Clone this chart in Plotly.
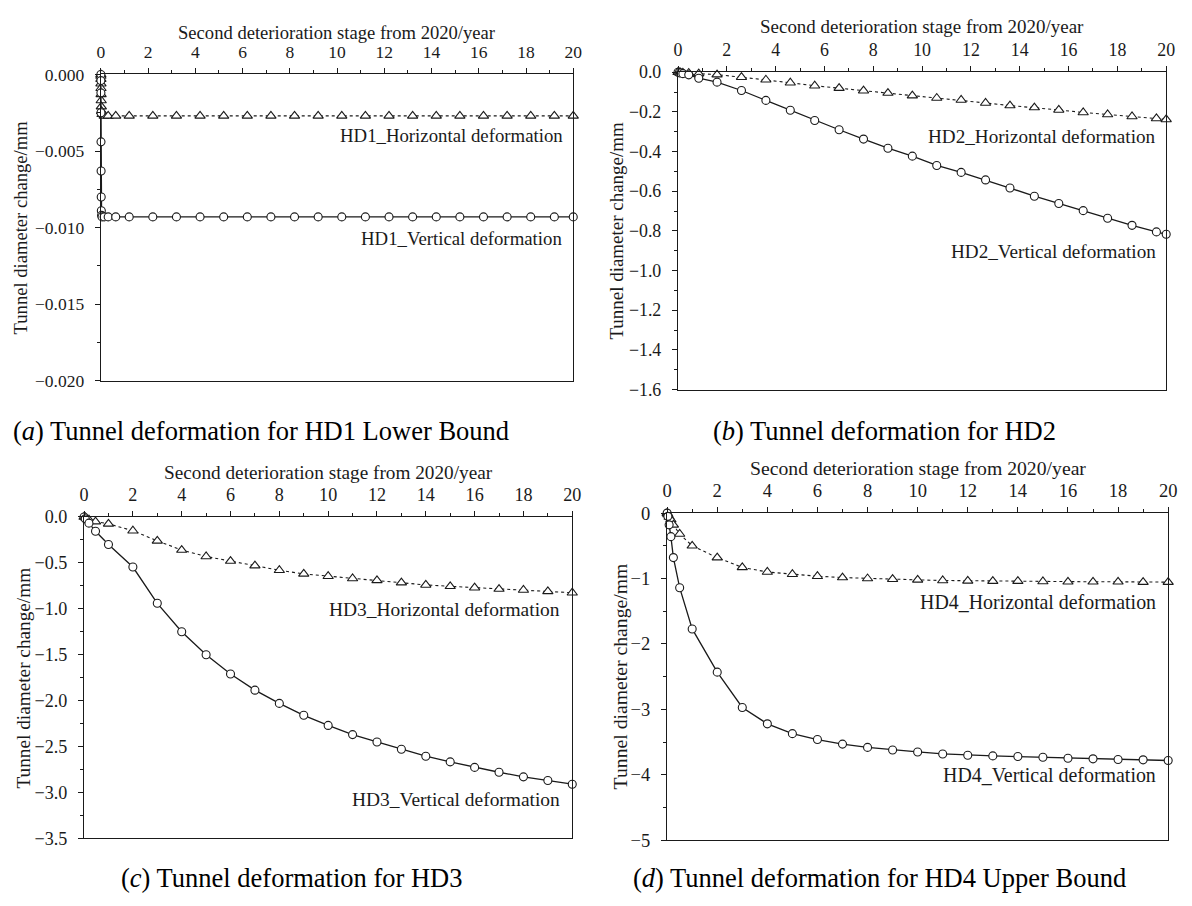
import plotly.graph_objects as go

# ---------------- data ----------------
# (a) HD1 Lower Bound
a_years = [0, 0.001, 0.002, 0.004, 0.006, 0.01, 0.015, 0.02, 0.03, 0.05,
           0.14, 0.31, 0.63, 1.2, 2.2, 3.2, 4.2, 5.2, 6.2, 7.2, 8.2, 9.2,
           10.2, 11.2, 12.2, 13.2, 14.2, 15.2, 16.2, 17.2, 18.2, 19.2, 20]
a_horizontal = [0, -0.0001, -0.0003, -0.0006, -0.0009, -0.0013, -0.0017, -0.0021,
                -0.0024, -0.0026, -0.0027, -0.0027, -0.0027, -0.0027, -0.0027,
                -0.0027, -0.0027, -0.0027, -0.0027, -0.0027, -0.0027, -0.0027,
                -0.0027, -0.0027, -0.0027, -0.0027, -0.0027, -0.0027, -0.0027,
                -0.0027, -0.0027, -0.0027, -0.0027]
a_vertical = [0, -0.0004, -0.0012, -0.0025, -0.0044, -0.0063, -0.0080, -0.0089,
              -0.0092, -0.0093, -0.0093, -0.0093, -0.0093, -0.0093, -0.0093,
              -0.0093, -0.0093, -0.0093, -0.0093, -0.0093, -0.0093, -0.0093,
              -0.0093, -0.0093, -0.0093, -0.0093, -0.0093, -0.0093, -0.0093,
              -0.0093, -0.0093, -0.0093, -0.0093]

# (b) HD2
b_years = [0, 0.05, 0.1, 0.2, 0.44, 0.85, 1.6, 2.6, 3.6, 4.6, 5.6, 6.6, 7.6, 8.6,
           9.6, 10.6, 11.6, 12.6, 13.6, 14.6, 15.6, 16.6, 17.6, 18.6, 19.6, 20]
b_horizontal = [0, -0.001, -0.002, -0.003, -0.004, -0.007, -0.012, -0.025, -0.038,
                -0.053, -0.068, -0.080, -0.093, -0.105, -0.118, -0.130, -0.140,
                -0.155, -0.168, -0.178, -0.190, -0.203, -0.213, -0.223, -0.233, -0.238]
b_vertical = [0, -0.002, -0.004, -0.007, -0.013, -0.030, -0.050, -0.092, -0.142,
              -0.192, -0.243, -0.290, -0.337, -0.383, -0.423, -0.470, -0.505,
              -0.543, -0.584, -0.625, -0.662, -0.698, -0.736, -0.772, -0.805, -0.817]

# (c) HD3
c_years = [0, 0.05, 0.2, 0.47, 1, 2, 3, 4, 5, 6, 7, 8, 9, 10, 11, 12, 13, 14, 15,
           16, 17, 18, 19, 20]
c_horizontal = [0, -0.005, -0.03, -0.05, -0.075, -0.15, -0.26, -0.36, -0.43, -0.48,
                -0.53, -0.58, -0.62, -0.645, -0.67, -0.69, -0.715, -0.74, -0.755,
                -0.77, -0.785, -0.795, -0.81, -0.825]
c_vertical = [0, -0.02, -0.067, -0.156, -0.30, -0.545, -0.94, -1.25, -1.50, -1.71,
              -1.886, -2.03, -2.16, -2.27, -2.37, -2.45, -2.53, -2.605, -2.667,
              -2.727, -2.78, -2.83, -2.87, -2.91]

# (d) HD4 Upper Bound
d_years = [0, 0.03, 0.08, 0.15, 0.25, 0.5, 1, 2, 3, 4, 5, 6, 7, 8, 9, 10, 11, 12,
           13, 14, 15, 16, 17, 18, 19, 20]
d_horizontal = [0, -0.02, -0.06, -0.10, -0.18, -0.32, -0.50, -0.68, -0.83, -0.90,
                -0.935, -0.965, -0.985, -1.00, -1.01, -1.02, -1.03, -1.035, -1.04,
                -1.04, -1.045, -1.05, -1.05, -1.05, -1.055, -1.055]
d_vertical = [0, -0.05, -0.18, -0.36, -0.68, -1.14, -1.77, -2.43, -2.97, -3.22,
              -3.37, -3.46, -3.53, -3.58, -3.62, -3.65, -3.68, -3.70, -3.71, -3.72,
              -3.73, -3.745, -3.755, -3.765, -3.77, -3.78]

x_title = "Second deterioration stage from 2020/year"
y_title = "Tunnel diameter change/mm"
captions = ["(<i>a</i>) Tunnel deformation for HD1 Lower Bound",
            "(<i>b</i>) Tunnel deformation for HD2",
            "(<i>c</i>) Tunnel deformation for HD3",
            "(<i>d</i>) Tunnel deformation for HD4 Upper Bound"]
h_labels = ["HD1_Horizontal deformation", "HD2_Horizontal deformation",
            "HD3_Horizontal deformation", "HD4_Horizontal deformation"]
v_labels = ["HD1_Vertical deformation", "HD2_Vertical deformation",
            "HD3_Vertical deformation", "HD4_Vertical deformation"]

# ---------------- layout / style ----------------
W, H = 1192, 906
FONT = "Liberation Serif, Times New Roman, serif"
INK = "#1a1a1a"

series = [(a_years, a_horizontal, a_vertical),
          (b_years, b_horizontal, b_vertical),
          (c_years, c_horizontal, c_vertical),
          (d_years, d_horizontal, d_vertical)]

# plot boxes in pixels: (left, right, top, bottom)
boxes = [(97, 575, 65, 378.5), (681, 1175, 62.7, 387.5),
         (80, 574, 518, 847), (670, 1177, 514, 849)]
scale = [1.0, 1.02, 1.035, 1.06]          # per-panel text scale
y_ranges = [(-0.020, 0.0), (-1.6, 0.0), (-3.5, 0.0), (-5.0, 0.0)]
y_dticks = [0.005, 0.2, 0.5, 1.0]
y_minor = [0.0025, 0.1, 0.25, 0.5]
y_formats = [".3f", ".1f", ".1f", "d"]
h_label_pos = [(19.65, -0.0040), (19.68, -0.325), (19.6, -1.01), (19.6, -1.36)]
v_label_pos = [(19.6, -0.0107), (19.68, -0.905), (19.6, -3.08), (19.6, -4.0)]
xtitle_gap = [43, 47, 46, 46]
ytitle_x = [16, 619, 19, 622]
caption_pos = [(259, 430), (890, 430), (290, 888), (885, 888)]

fig = go.Figure()
annotations = []
layout = dict(width=W, height=H, autosize=False,
              margin=dict(l=0, r=0, t=0, b=0),
              paper_bgcolor="white", plot_bgcolor="white",
              showlegend=False,
              font=dict(family=FONT, color=INK, size=18))

for i, ((yrs, hor, ver), (l, r, t, b)) in enumerate(zip(series, boxes)):
    n = "" if i == 0 else str(i + 1)
    xa, ya = "x" + n, "y" + n
    s = scale[i]
    fig.add_trace(go.Scatter(
        x=yrs, y=hor, xaxis=xa, yaxis=ya, mode="lines+markers",
        line=dict(color=INK, width=1.1, dash="3px,3px"),
        marker=dict(symbol="triangle-up", size=9, color="white",
                    line=dict(color=INK, width=1.1)),
        cliponaxis=False))
    fig.add_trace(go.Scatter(
        x=yrs, y=ver, xaxis=xa, yaxis=ya, mode="lines+markers",
        line=dict(color=INK, width=1.3),
        marker=dict(symbol="circle", size=8, color="white",
                    line=dict(color=INK, width=1.1)),
        cliponaxis=False))

    layout["xaxis" + n] = dict(
        domain=[l / W, r / W], anchor=ya, side="top", range=[0, 20],
        tick0=0, dtick=2, ticks="outside", ticklen=5, tickwidth=1.3,
        tickcolor=INK, showline=True, linecolor=INK, linewidth=1.3,
        mirror=True, showgrid=False, zeroline=False, ticklabelstandoff=3,
        tickfont=dict(family=FONT, size=17.5 * s, color=INK),
        minor=dict(ticks="outside", ticklen=3, tickwidth=1.1, tickcolor=INK,
                   tick0=0, dtick=1, showgrid=False))
    layout["yaxis" + n] = dict(
        domain=[1 - b / H, 1 - t / H], anchor=xa, range=list(y_ranges[i]),
        tick0=0, dtick=y_dticks[i], tickformat=y_formats[i],
        ticks="outside", ticklen=5, tickwidth=1.3, tickcolor=INK,
        showline=True, linecolor=INK, linewidth=1.3, mirror=True,
        showgrid=False, zeroline=False, ticklabelstandoff=7,
        tickfont=dict(family=FONT, size=17.5 * s, color=INK),
        minor=dict(ticks="outside", ticklen=3, tickwidth=1.1, tickcolor=INK,
                   tick0=0, dtick=y_minor[i], showgrid=False))

    # x-axis title (top)
    annotations.append(dict(
        text=x_title, xref="paper", yref="paper",
        x=(l + r) / 2 / W, y=1 - (t - xtitle_gap[i]) / H,
        xanchor="center", yanchor="middle",
        showarrow=False, font=dict(family=FONT, size=18.6 * s, color=INK)))
    # y-axis title
    annotations.append(dict(
        text=y_title, xref="paper", yref="paper", textangle=-90,
        x=ytitle_x[i] / W, y=1 - (t + b) / 2 / H, xanchor="center", yanchor="middle",
        showarrow=False, font=dict(family=FONT, size=18.6 * s, color=INK)))
    # series labels
    annotations.append(dict(
        text=h_labels[i], xref=xa, yref=ya, x=h_label_pos[i][0], y=h_label_pos[i][1],
        xanchor="right", yanchor="middle", showarrow=False,
        font=dict(family=FONT, size=18.8 * s, color=INK)))
    annotations.append(dict(
        text=v_labels[i], xref=xa, yref=ya, x=v_label_pos[i][0], y=v_label_pos[i][1],
        xanchor="right", yanchor="middle", showarrow=False,
        font=dict(family=FONT, size=18.8 * s, color=INK)))
    # caption
    annotations.append(dict(
        text=captions[i], xref="paper", yref="paper",
        x=caption_pos[i][0] / W, y=1 - caption_pos[i][1] / H,
        xanchor="center", yanchor="middle", showarrow=False,
        font=dict(family=FONT, size=26.5, color="black")))

layout["annotations"] = annotations
fig.update_layout(**layout)
fig.write_html(
    "out.html",
    config={"displayModeBar": False},
    post_script="document.body.style.margin='0px';"
                "document.body.style.padding='0px';"
                "document.body.style.overflow='hidden';")
